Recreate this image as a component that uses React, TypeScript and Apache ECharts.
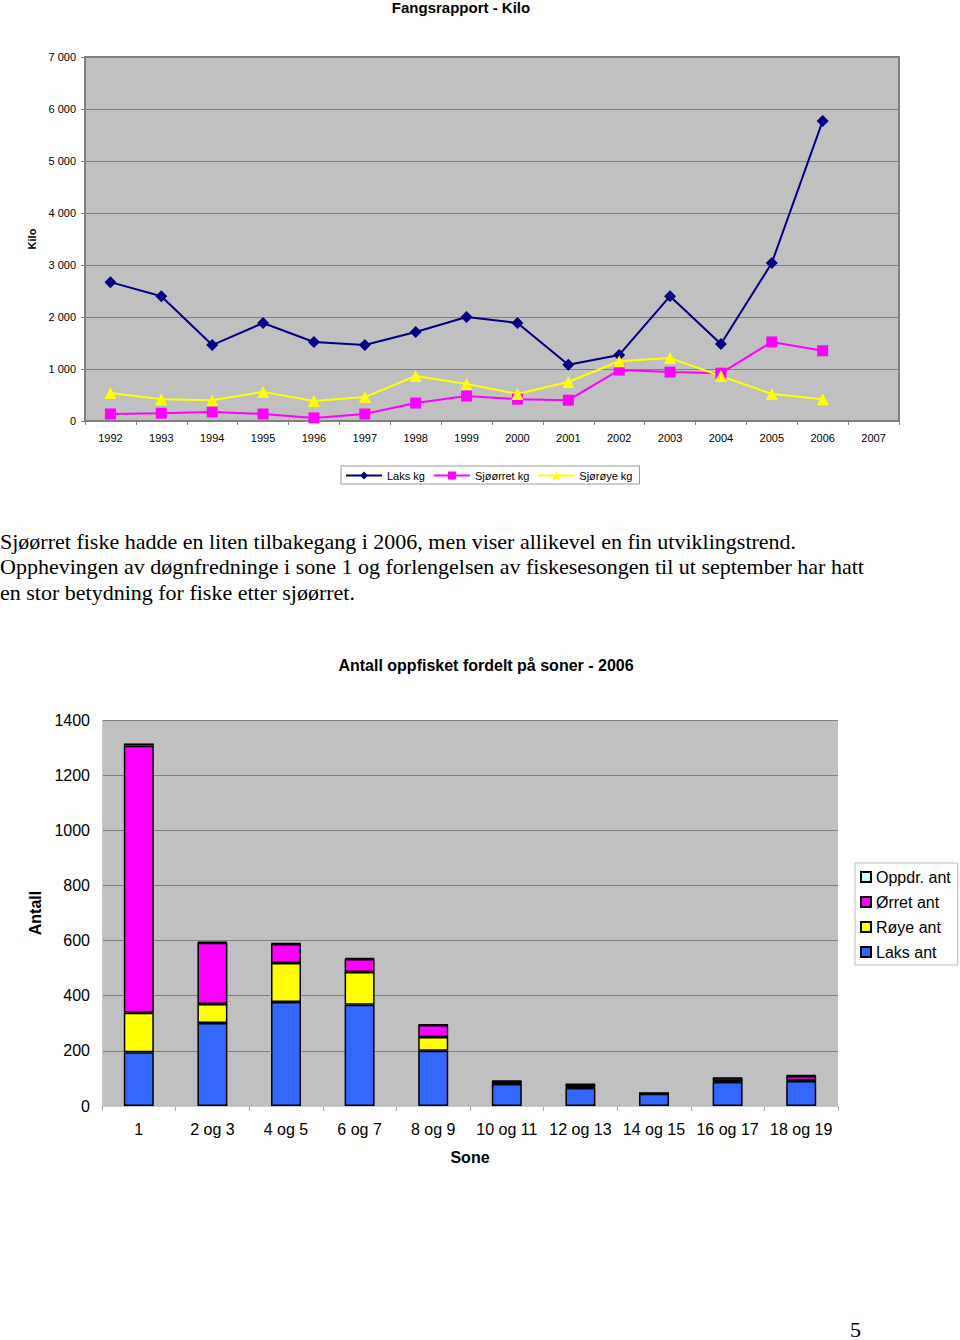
import React, { useEffect, useRef } from "react";
import * as echarts from "echarts";

const years = ["1992","1993","1994","1995","1996","1997","1998","1999","2000","2001","2002","2003","2004","2005","2006","2007"];
const laksKg = [2670,2400,1460,1885,1520,1460,1710,2000,1885,1080,1270,2400,1480,3040,5770,null];
const sjoorretKg = [135,150,175,135,60,135,345,480,420,400,980,940,920,1520,1350,null];
const sjoroyeKg = [540,420,400,560,385,460,865,710,520,750,1150,1210,865,520,420,null];

const soner = ["1","2 og 3","4 og 5","6 og 7","8 og 9","10 og 11","12 og 13","14 og 15","16 og 17","18 og 19"];
const laksAnt = [195,301,377,367,200,80,65,44,87,91];
const royeAnt = [143,69,142,119,50,2,3,0,2,2];
const orretAnt = [969,222,69,47,44,8,10,3,12,16];
const oppdrAnt = [8,3,2,4,2,2,2,0,2,3];

const paragraph = [
  "Sjøørret fiske hadde en liten tilbakegang i 2006, men viser allikevel en fin utviklingstrend.",
  "Opphevingen av døgnfredninge i sone 1 og forlengelsen av fiskesesongen til ut september har hatt",
  "en stor betydning for fiske etter sjøørret.",
];

const SANS = "'Liberation Sans', Arial, sans-serif";
const SERIF = "'Liberation Serif', 'Times New Roman', serif";

export default function App() {
  const ref = useRef<HTMLDivElement>(null);
  useEffect(() => {
    document.body.style.margin = "0";
    const chart = echarts.init(ref.current!, null, { renderer: "svg" });
    const fmt = (v: number) => (v >= 1000 ? String(v).replace(/(\d)(\d{3})$/, "$1 $2") : String(v));
    const barBorder = { borderColor: "#000", borderWidth: 1.5 };
    chart.setOption({
      animation: false,
      backgroundColor: "#fff",
      textStyle: { fontFamily: SANS },
      title: [
        { text: "Antall oppfisket fordelt på soner - 2006", left: 481, top: 652, textAlign: "center",
          textStyle: { fontSize: 16, fontWeight: "bold", color: "#000", fontFamily: SANS } },
      ],
      legend: [
        { data: ["Laks kg", "Sjøørret kg", "Sjørøye kg"], left: 341, top: 466,
          orient: "horizontal", itemWidth: 36, itemHeight: 10, itemGap: 8, padding: [4, 7, 3, 4],
          borderColor: "#999", borderWidth: 1, backgroundColor: "#fff",
          textStyle: { fontSize: 11, color: "#000", fontFamily: SANS } },
        { data: ["Oppdr. ant", "Ørret ant", "Røye ant", "Laks ant"], left: 855, top: 863,
          orient: "vertical", itemWidth: 10, itemHeight: 10, itemGap: 9, padding: [6, 7, 5, 5],
          icon: "rect",
          borderColor: "#bbb", borderWidth: 1, backgroundColor: "#fff",
          textStyle: { fontSize: 16, color: "#000", fontFamily: SANS } },
      ],
      grid: [
        { left: 85, top: 57, width: 814, height: 364, show: true, backgroundColor: "#C0C0C0",
          borderColor: "#808080", borderWidth: 2 },
        { left: 102, top: 720, width: 736, height: 386, show: true, backgroundColor: "#C0C0C0",
          borderColor: "#C0C0C0", borderWidth: 0 },
      ],
      xAxis: [
        { type: "category", gridIndex: 0, data: years, boundaryGap: true,
          axisLine: { lineStyle: { color: "#808080", width: 2 } },
          axisTick: { show: true, length: 4, lineStyle: { color: "#808080" } },
          axisLabel: { fontSize: 11, color: "#000", margin: 11, fontFamily: SANS, interval: 0 } },
        { type: "category", gridIndex: 1, data: soner, boundaryGap: true,
          name: "Sone", nameLocation: "middle", nameGap: 43,
          nameTextStyle: { fontSize: 16, fontWeight: "bold", color: "#000", fontFamily: SANS },
          axisLine: { lineStyle: { color: "#c8c8c8", width: 1 } },
          axisTick: { show: true, length: 5, interval: 0, lineStyle: { color: "#aaa" } },
          axisLabel: { fontSize: 16, color: "#000", margin: 15, fontFamily: SANS, interval: 0 } },
      ],
      yAxis: [
        { type: "value", gridIndex: 0, min: 0, max: 7000, interval: 1000,
          name: "Kilo", nameLocation: "middle", nameGap: 47, nameRotate: 90,
          nameTextStyle: { fontSize: 11, fontWeight: "bold", color: "#000", fontFamily: SANS },
          axisLine: { show: true, lineStyle: { color: "#808080", width: 2 } },
          axisTick: { show: true, length: 4, lineStyle: { color: "#808080" } },
          splitLine: { lineStyle: { color: "#808080", width: 1 } },
          axisLabel: { fontSize: 11, color: "#000", margin: 9, formatter: fmt, fontFamily: SANS } },
        { type: "value", gridIndex: 1, min: 0, max: 1400, interval: 200,
          name: "Antall", nameLocation: "middle", nameGap: 58, nameRotate: 90,
          nameTextStyle: { fontSize: 16, fontWeight: "bold", color: "#000", fontFamily: SANS },
          axisLine: { show: true, lineStyle: { color: "#c8c8c8", width: 1 } },
          axisTick: { show: false },
          splitLine: { lineStyle: { color: "#808080", width: 1 } },
          axisLabel: { fontSize: 16, color: "#000", margin: 12, fontFamily: SANS,
            formatter: (v: number) => String(v) } },
      ],
      series: [
        { name: "Laks kg", type: "line", xAxisIndex: 0, yAxisIndex: 0, data: laksKg,
          symbol: "diamond", symbolSize: 12, color: "#000080",
          lineStyle: { color: "#000080", width: 2 }, itemStyle: { color: "#000080" } },
        { name: "Sjøørret kg", type: "line", xAxisIndex: 0, yAxisIndex: 0, data: sjoorretKg,
          symbol: "rect", symbolSize: 11, color: "#FF00FF",
          lineStyle: { color: "#FF00FF", width: 2 }, itemStyle: { color: "#FF00FF" } },
        { name: "Sjørøye kg", type: "line", xAxisIndex: 0, yAxisIndex: 0, data: sjoroyeKg,
          symbol: "triangle", symbolSize: 12, color: "#FFFF00",
          lineStyle: { color: "#FFFF00", width: 2 }, itemStyle: { color: "#FFFF00" } },
        { name: "Laks ant", type: "bar", xAxisIndex: 1, yAxisIndex: 1, stack: "a", data: laksAnt,
          barWidth: 30, itemStyle: { color: "#3366FF", ...barBorder } },
        { name: "Røye ant", type: "bar", xAxisIndex: 1, yAxisIndex: 1, stack: "a", data: royeAnt,
          barWidth: 30, itemStyle: { color: "#FFFF00", ...barBorder } },
        { name: "Ørret ant", type: "bar", xAxisIndex: 1, yAxisIndex: 1, stack: "a", data: orretAnt,
          barWidth: 30, itemStyle: { color: "#FF00FF", ...barBorder } },
        { name: "Oppdr. ant", type: "bar", xAxisIndex: 1, yAxisIndex: 1, stack: "a", data: oppdrAnt,
          barWidth: 30, itemStyle: { color: "#CCFFFF", ...barBorder } },
      ],
      graphic: [
        { type: "text", x: 461, y: 0,
          style: { text: "Fangsrapport - Kilo", fontSize: 15, fontWeight: "bold", fontFamily: SANS,
            fill: "#000", align: "center", verticalAlign: "top" } },
        ...paragraph.map((line, i) => ({
          type: "text", left: 0, top: 530 + i * 25.5,
          style: { text: line, fontSize: 22, fontFamily: SERIF, fill: "#000" },
        })),
        { type: "text", left: 850, top: 1318,
          style: { text: "5", fontSize: 22, fontFamily: SERIF, fill: "#000" } },
      ],
    });
    return () => chart.dispose();
  }, []);
  return <div ref={ref} style={{ width: 960, height: 1340 }} />;
}
